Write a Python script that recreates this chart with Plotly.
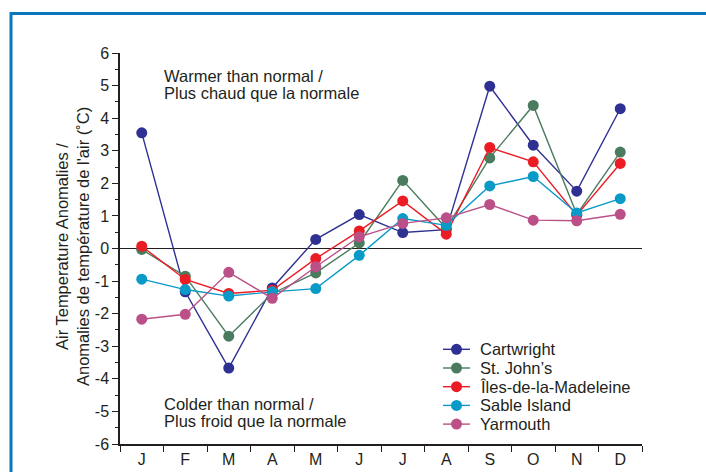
import plotly.graph_objects as go

# Monthly air temperature anomalies (°C)
months = ["Jan", "Feb", "Mar", "Apr", "May", "Jun",
          "Jul", "Aug", "Sep", "Oct", "Nov", "Dec"]
month_labels = ["J", "F", "M", "A", "M", "J", "J", "A", "S", "O", "N", "D"]

y_tick_values = [-6, -5, -4, -3, -2, -1, 0, 1, 2, 3, 4, 5, 6]
y_tick_labels = ["-6", "-5", "-4", "-3", "-2", "-1", "0", "1", "2", "3", "4", "5", "6"]

cartwright = [3.55, -1.33, -3.67, -1.21, 0.28, 1.04, 0.49, 0.58, 4.98, 3.17, 1.76, 4.29]
st_johns = [-0.03, -0.85, -2.69, -1.38, -0.75, 0.17, 2.09, 0.62, 2.78, 4.39, 1.05, 2.96]
iles_madeleine = [0.07, -0.95, -1.38, -1.28, -0.31, 0.54, 1.46, 0.44, 3.10, 2.66, 1.02, 2.61]
sable_island = [-0.94, -1.26, -1.46, -1.33, -1.23, -0.21, 0.92, 0.71, 1.92, 2.21, 1.09, 1.53]
yarmouth = [-2.17, -2.02, -0.73, -1.53, -0.56, 0.36, 0.77, 0.94, 1.35, 0.87, 0.85, 1.05]

station_names = ["Cartwright", "St. John\u2019s", "\u00celes-de-la-Madeleine",
                 "Sable Island", "Yarmouth"]
station_values = [cartwright, st_johns, iles_madeleine, sable_island, yarmouth]
station_colors = ["#2e3192", "#4a7b5e", "#ec1c24", "#0a9ac8", "#bb5088"]

FONT = "Liberation Sans, Arial, Helvetica, sans-serif"
INK = "#231f20"

W, H = 706, 472
ML, MR, MT, MB = 120, 64, 53, 28
PW, PH = W - ML - MR, H - MT - MB


def px_x(p):
    return (p - ML) / PW


def px_y(p):
    return 1 - (p - MT) / PH


fig = go.Figure()

for name, vals, col in zip(station_names, station_values, station_colors):
    fig.add_trace(go.Scatter(
        x=months, y=vals, name=name, mode="lines+markers",
        line=dict(color=col, width=1.4),
        marker=dict(color=col, size=11),
        showlegend=False,
    ))

shapes = []
annotations = []

# Hand-built legend block (tight row spacing)
for i, (name, col) in enumerate(zip(station_names, station_colors)):
    yc = px_y(349.3 + i * 18.7)
    shapes.append(dict(type="line", xref="paper", yref="paper",
                       x0=px_x(443), x1=px_x(470), y0=yc, y1=yc,
                       line=dict(color=col, width=1.4)))
    r = 5.5
    shapes.append(dict(type="circle", xref="paper", yref="paper",
                       x0=px_x(456.5 - r), x1=px_x(456.5 + r),
                       y0=yc - r / PH, y1=yc + r / PH,
                       fillcolor=col, line=dict(color=col, width=0)))
    annotations.append(dict(text=name, xref="paper", yref="paper",
                            x=px_x(478), y=yc, xanchor="left", yanchor="middle",
                            showarrow=False, font=dict(family=FONT, size=16.5, color=INK)))

# Region notes
notes = [("Warmer than normal /", 76), ("Plus chaud que la normale", 93.5),
         ("Colder than normal /", 403.5), ("Plus froid que la normale", 421)]
for txt, yp in notes:
    annotations.append(dict(text=txt, xref="paper", yref="paper",
                            x=px_x(162), y=px_y(yp), xanchor="left", yanchor="middle",
                            showarrow=False, font=dict(family=FONT, size=16.5, color=INK)))

# Two-line y-axis title, each line centred on the plot
for txt, xp in [("Air Temperature Anomalies /", 62),
                ("Anomalies de temp\u00e9rature de l'air (\u02daC)", 83)]:
    annotations.append(dict(text=txt, xref="paper", yref="paper", textangle=-90,
                            x=px_x(xp), y=px_y(247), xanchor="center", yanchor="middle",
                            showarrow=False, font=dict(family=FONT, size=16.5, color=INK)))

# Blue page frame
shapes.append(dict(type="rect", xref="paper", yref="paper", layer="below",
                   x0=px_x(11), x1=px_x(730), y0=px_y(13.5), y1=px_y(500),
                   line=dict(color="#0a77bd", width=3), fillcolor="rgba(0,0,0,0)"))

fig.update_layout(
    width=W, height=H,
    margin=dict(l=ML, r=MR, t=MT, b=MB),
    paper_bgcolor="white", plot_bgcolor="white",
    font=dict(family=FONT, size=16, color=INK),
    showlegend=False,
    shapes=shapes,
    annotations=annotations,
    xaxis=dict(
        type="category", categoryorder="array", categoryarray=months,
        range=[-0.5, 11.5], automargin=False,
        tickmode="array", tickvals=months, ticktext=month_labels,
        tickson="boundaries", ticks="outside", ticklen=6, tickwidth=1, tickcolor=INK,
        showline=True, linecolor=INK, linewidth=1.5, showgrid=False,
        tickfont=dict(family=FONT, size=16, color=INK),
    ),
    xaxis2=dict(
        overlaying="x", side="top", anchor="y", range=[0.5, 12.5], automargin=False,
        tickmode="array", tickvals=[k + 0.5 for k in range(len(months) + 1)],
        ticks="inside", ticklen=5, tickwidth=1, tickcolor=INK,
        showticklabels=False, showline=True, linecolor=INK, linewidth=1.5,
        showgrid=False, zeroline=False,
    ),
    yaxis=dict(
        range=[-6, 6], automargin=False,
        tickmode="array", tickvals=y_tick_values, ticktext=y_tick_labels,
        ticks="outside", ticklen=6, tickwidth=1, tickcolor=INK,
        minor=dict(ticks="outside", tickmode="linear", tick0=0, dtick=0.5,
                   ticklen=3, tickwidth=1, tickcolor=INK),
        showline=True, linecolor=INK, linewidth=1.5, showgrid=False,
        zeroline=True, zerolinecolor=INK, zerolinewidth=1,
        tickfont=dict(family=FONT, size=16, color=INK),
    ),
    yaxis2=dict(
        overlaying="y", side="right", anchor="x", range=[-6, 6], automargin=False,
        tickmode="array", tickvals=y_tick_values,
        ticks="inside", ticklen=6, tickwidth=1, tickcolor=INK,
        minor=dict(ticks="inside", tickmode="linear", tick0=0, dtick=0.5,
                   ticklen=3, tickwidth=1, tickcolor=INK),
        showticklabels=False, showline=True, linecolor=INK, linewidth=1.5,
        showgrid=False, zeroline=False,
    ),
)

fig.write_html("out.html")
